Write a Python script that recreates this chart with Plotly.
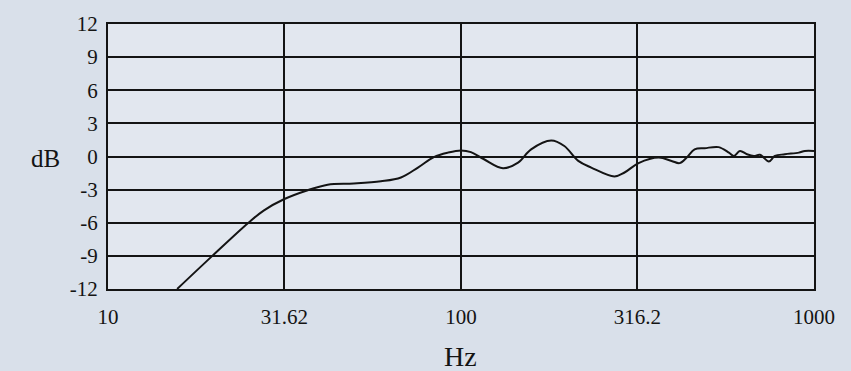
import plotly.graph_objects as go

# Frequency response
freq_hz = [15.7, 19.75, 25.0, 27.6, 31.6, 36.8, 41.9, 49.7, 59.3, 67.6, 75.5, 83.8,
           91.8, 100.0, 106.7, 116.2, 131.5, 145.1, 158.0, 180.2, 196.2, 214.9,
           233.9, 272.1, 290.6, 318.4, 363, 395, 416, 436, 459, 490, 537, 574,
           593, 617, 646, 676, 703, 745, 775, 827, 906, 942, 1000]
level_db = [-12.0, -9.0, -6.0, -4.9, -3.85, -3.05, -2.55, -2.45, -2.25, -1.9, -1.0, -0.05,
            0.35, 0.55, 0.4, -0.25, -1.06, -0.55, 0.65, 1.45, 0.95, -0.4,
            -1.0, -1.8, -1.45, -0.6, -0.1, -0.4, -0.6, -0.1, 0.65, 0.75, 0.85, 0.35,
            0.05, 0.5, 0.2, 0.05, 0.15, -0.45, 0.05, 0.2, 0.35, 0.5, 0.5]

x_tick_vals = [10, 31.62, 100, 316.2, 1000]
x_tick_text = ["10", "31.62", "100", "316.2", "1000"]
y_tick_vals = [-12, -9, -6, -3, 0, 3, 6, 9, 12]
y_tick_text = ["-12", "-9", "-6", "-3", "0", "3", "6", "9", "12"]

FONT = "Liberation Serif"
INK = "#141414"
PAPER = "#d9e0ea"

fig = go.Figure()
fig.add_trace(go.Scatter(
    x=freq_hz, y=level_db, mode="lines",
    line=dict(color=INK, width=2, shape="spline", smoothing=1.0),
    showlegend=False, hoverinfo="skip"))

fig.update_layout(
    width=851, height=371,
    margin=dict(l=108, r=37, t=22, b=82),
    paper_bgcolor=PAPER,
    plot_bgcolor="#e2e7ef",
    font=dict(family=FONT, color=INK, size=21),
    xaxis=dict(
        type="log", range=[1, 3],
        tickvals=x_tick_vals, ticktext=x_tick_text,
        showgrid=True, gridcolor=INK, gridwidth=1.7,
        showline=True, linecolor=INK, linewidth=2.2, mirror=True,
        ticks="outside", ticklen=8, tickcolor="rgba(0,0,0,0)",
        zeroline=False, tickfont=dict(size=21, family=FONT, color=INK),
    ),
    yaxis=dict(
        range=[-12, 12],
        tickvals=y_tick_vals, ticktext=y_tick_text,
        showgrid=True, gridcolor=INK, gridwidth=1.7,
        showline=True, linecolor=INK, linewidth=2.2, mirror=True,
        ticks="outside", ticklen=4, tickcolor="rgba(0,0,0,0)",
        zeroline=False, tickfont=dict(size=21, family=FONT, color=INK),
    ),
    annotations=[
        dict(text="dB", xref="paper", yref="paper", x=-0.089, y=0.494,
             showarrow=False, font=dict(size=25, family=FONT, color=INK),
             xanchor="center", yanchor="middle"),
        dict(text="Hz", xref="paper", yref="paper", x=0.4986, y=-0.255,
             showarrow=False, font=dict(size=28, family=FONT, color=INK),
             xanchor="center", yanchor="middle"),
    ],
)

fig.write_html(
    "out.html",
    config={"displayModeBar": False},
    post_script="document.body.style.margin='0';document.body.style.background='%s';"
                "document.documentElement.style.background='%s';" % (PAPER, PAPER),
)
